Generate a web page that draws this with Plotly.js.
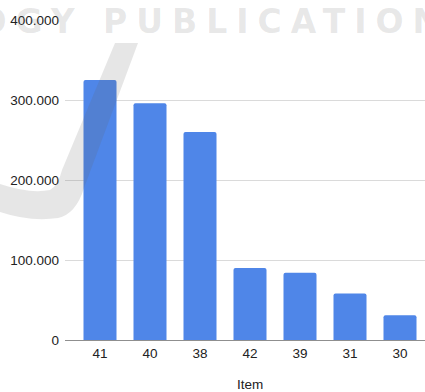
<!DOCTYPE html>
<html>
<head>
<meta charset="utf-8">
<script src="https://cdn.plot.ly/plotly-3.0.1.min.js"></script>
<style>
  html, body { margin: 0; padding: 0; background: #ffffff; }
  #chart { width: 425px; height: 392px; }
</style>
</head>
<body>
<div id="chart"></div>
<script>
// Category labels (x axis) and the value of each bar
const items = ['41', '40', '38', '42', '39', '31', '30'];
const values = [325000, 296000, 260000, 90000, 84000, 58000, 31000];
// Value axis ticks
const yTickValues = [0, 100000, 200000, 300000, 400000];
const xAxisTitle = 'Item';

const W = 425, H = 392;
const M = { l: 65, r: 0, t: 20, b: 52 };
const plotW = W - M.l - M.r, plotH = H - M.t - M.b;

// pixel -> paper coordinates, for the faint logo mark and the axis caption
function px(x) { return +((x - M.l) / plotW).toFixed(4); }
function py(y) { return +((H - M.b - y) / plotH).toFixed(4); }
function pathFrom(cmds) {
  return cmds.map(c => {
    if (c[0] === 'Z') return 'Z';
    const pts = [];
    for (let i = 1; i < c.length; i += 2) pts.push(px(c[i]) + ',' + py(c[i + 1]));
    return c[0] + ' ' + pts.join(' ');
  }).join(' ');
}
const swoosh = pathFrom([
  ['M', 115, 43], ['L', 138, 43], ['L', 84, 188],
  ['Q', 76, 214, 58, 218], ['Q', 30, 222, 0, 212],
  ['L', 0, 184], ['Q', 30, 194, 50, 190], ['Q', 58, 186, 62, 170],
  ['Z']
]);

const trace = {
  type: 'bar',
  x: items,
  y: values,
  marker: { color: '#4f86e8' },
  width: 0.66,
  hoverinfo: 'x+y'
};

const markFont = { family: 'DejaVu Sans', size: 33, weight: 700, color: 'rgba(110,110,110,0.17)' };
const axisFont = { family: 'Liberation Sans, Arial, sans-serif', size: 13.5, color: '#222222' };

const layout = {
  width: W,
  height: H,
  margin: M,
  paper_bgcolor: '#ffffff',
  plot_bgcolor: '#ffffff',
  separators: ',.',
  showlegend: false,
  barcornerradius: 2,
  font: axisFont,
  xaxis: {
    type: 'category',
    range: [-0.7, 6.5],
    showgrid: false,
    showline: true,
    linecolor: '#8f8f8f',
    linewidth: 1.2,
    ticks: '',
    ticklabelstandoff: 1,
    tickfont: axisFont,
    automargin: false,
    fixedrange: true
  },
  yaxis: {
    range: [0, 400000],
    tickvals: yTickValues,
    tickformat: ',d',
    showgrid: true,
    gridcolor: '#dadada',
    gridwidth: 1,
    zeroline: false,
    showline: false,
    ticks: '',
    ticklabelstandoff: 5,
    tickfont: axisFont,
    automargin: false,
    fixedrange: true
  },
  shapes: [{
    type: 'path',
    xref: 'paper', yref: 'paper',
    path: swoosh,
    fillcolor: 'rgba(100,100,100,0.16)',
    line: { width: 0 },
    layer: 'above'
  }],
  annotations: [
    {
      // category axis caption, centred under the bars
      xref: 'x', yref: 'paper',
      x: 3, y: py(384.5),
      xanchor: 'center', yanchor: 'middle',
      showarrow: false,
      text: xAxisTitle,
      font: axisFont
    },
    {
      xref: 'paper', yref: 'paper',
      x: px(101), y: py(22),
      xanchor: 'left', yanchor: 'middle',
      showarrow: false,
      text: '<span style="letter-spacing:9px">PUBLICATIONS</span>',
      font: markFont
    },
    {
      xref: 'paper', yref: 'paper',
      x: px(86), y: py(22),
      xanchor: 'right', yanchor: 'middle',
      showarrow: false,
      text: '<span style="letter-spacing:9px">TECHNOLOGY</span>',
      font: markFont
    }
  ]
};

Plotly.newPlot('chart', [trace], layout, { staticPlot: true, displayModeBar: false });
</script>
</body>
</html>
